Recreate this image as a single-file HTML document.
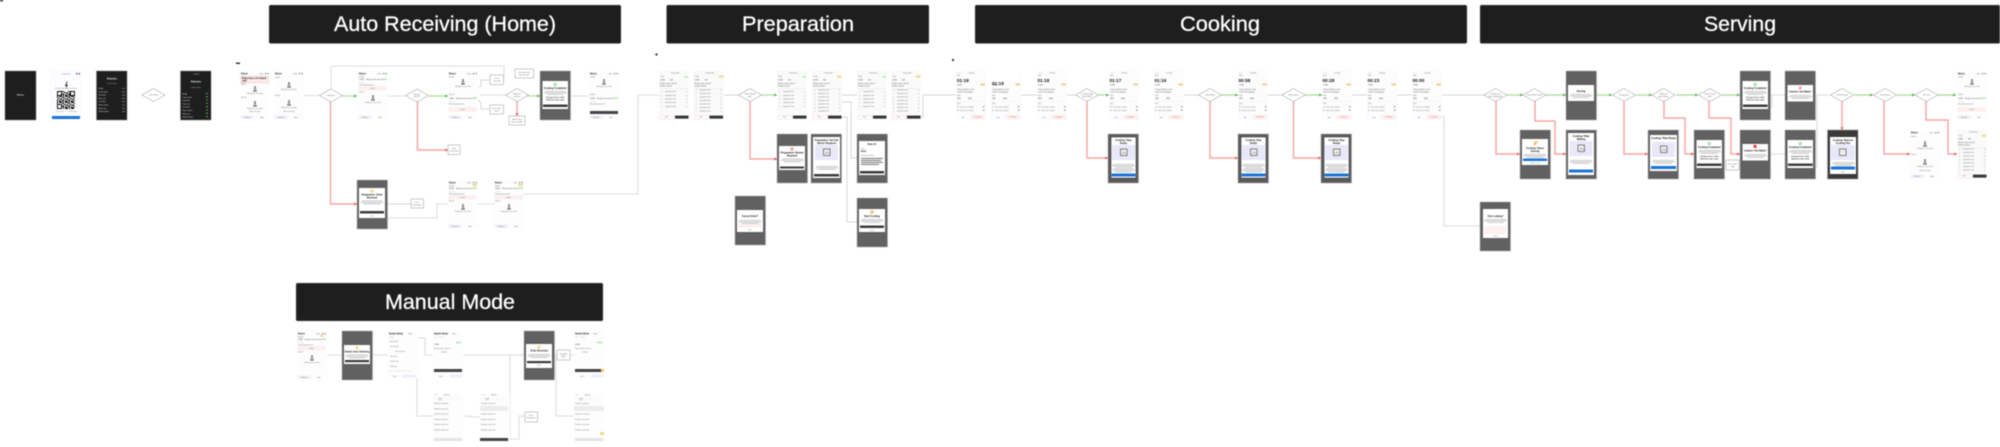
<!DOCTYPE html>
<html><head><meta charset="utf-8"><title>Flow</title>
<style>
html,body{margin:0;padding:0;background:#fff;width:2000px;height:447px;overflow:hidden}
svg{display:block;filter:blur(.4px)}
text{font-family:"Liberation Sans",sans-serif}
.h{font-size:21px;fill:#fff;text-anchor:middle;stroke:#fff;stroke-width:.25}
.t{font-size:1.7px;fill:#777}
.c{font-size:1.7px;fill:#777;text-anchor:middle}
.b{font-size:2.3px;fill:#222;font-weight:bold}
.bc{font-size:2.4px;fill:#111;font-weight:bold;text-anchor:middle}
.d{font-size:1.7px;fill:#666;text-anchor:middle}
.w{font-size:1.7px;fill:#ddd}
.g{fill:none;stroke:#e2e2e2;stroke-width:1.3}
.n{fill:none;stroke:#c9c9c9;stroke-width:.7}
.r{fill:none;stroke:#f7a3a3;stroke-width:1.4}
.v{fill:none;stroke:#a8dc98;stroke-width:1.2}
.bx{fill:#fff;stroke:#b5b5b5;stroke-width:.7}
</style></head><body>
<svg width="2000" height="447" viewBox="0 0 2000 447" xmlns="http://www.w3.org/2000/svg">
<defs>
<pattern id="qr" width="6" height="6" patternUnits="userSpaceOnUse">
<rect width="6" height="6" fill="#fff"/>
<path d="M0 0h2v1H0zM3 0h1v2H3zM5 0h1v1H5zM1 2h1v2H1zM4 2h2v1H4zM0 3h1v1H0zM3 3h1v2H3zM5 4h1v2H5zM0 5h2v1H0zM2 4h1v1H2zM3 5h1v1H3zM2 1h1v1H2z" fill="#111"/>
</pattern>
<g id="dia"><polygon points="-11.5,0 0,-6.5 11.5,0 0,6.5" fill="#fff" stroke="#888" stroke-width=".6" stroke-dasharray="1 .4"/></g>
<g id="bot"><circle cy="1" r=".9" fill="#555"/><path d="M-1.3 3.4V2.800Q0 1.800 1.300 2.800V3.400z" fill="#555"/><rect x="-1.800" y="4.400" width="3.600" height="1" fill="#333"/><text y="8" class="c">Waiting for new order</text></g>
<g id="top"><rect width="30" height="49" fill="#fdfdfd"/><text x="1" y="3.5" class="b">Robot</text><text x="19" y="3.5" class="t">100%</text><rect x="25" y="2" width="1.2" height="1.2" fill="#777"/><rect x="27.5" y="2" width="1.2" height="1.2" fill="#777"/></g>
<g id="foot"><rect x=".7" y="44.6" width="13" height="3.2" rx="1" fill="#eeeefb"/><text x="7" y="46.8" class="c" fill="#333">Manual</text><text x="22" y="46.8" class="c">Auto</text></g>
<g id="s2"><use href="#top"/><text x="1" y="7" class="t">Side A</text><use href="#bot" x="15" y="11"/><text x="1" y="25" class="t">Side B</text><use href="#bot" x="15" y="29"/><text x="15" y="41" class="c">Auto receiving</text><use href="#foot"/></g>
<g id="ord"><text x="1" y="2" class="t" font-weight="bold">#1024</text><text x="8" y="2" class="t" font-weight="bold">Recipe name and set</text><rect x="25" y=".2" width="4" height="1.8" fill="#bfeac0"/><rect x="1" y="4" width="6" height="1.4" fill="#eee"/><text x="1" y="7.6" class="t">Start preparation list</text></g>
<g id="s2r"><use href="#top"/><rect x=".5" y="5" width="28" height="7" fill="#fde9e9" stroke="#f6bcbc" stroke-width=".4"/><text x="2" y="7.8" class="b">Robot has a hot liquid</text><text x="2" y="10.6" class="b">spill</text><text x="1" y="13.5" class="t">Side A</text><use href="#bot" x="15" y="15"/><text x="1" y="27" class="t">Side B</text><use href="#bot" x="15" y="30"/><text x="15" y="41" class="c">Auto receiving</text><use href="#foot"/></g>
<g id="sC"><use href="#top"/><text x="1" y="6.5" class="t">Side A</text><use href="#ord" y="7"/><rect x="1" y="16" width="27" height="2.6" fill="#fff3f3" stroke="#f8c6c6" stroke-width=".3"/><text x="14.5" y="17.9" class="c" fill="#d55">Cancel</text><text x="1" y="21.5" class="t">Side B</text><use href="#bot" x="15" y="24"/><use href="#foot"/></g>
<g id="sD"><use href="#top"/><text x="1" y="6.5" class="t">Side A</text><use href="#bot" x="15" y="8"/><text x="1" y="24" class="t">Side B</text><use href="#ord" y="26"/><rect x="1" y="37" width="27" height="3" fill="#fff3f3" stroke="#f8c6c6" stroke-width=".3"/><text x="14.5" y="39" class="c" fill="#d55">Cancel</text><use href="#foot"/></g>
<g id="sE"><use href="#top"/><text x="1" y="6.5" class="t">Side A</text><use href="#bot" x="15" y="8"/><text x="1" y="24" class="t">Side B</text><use href="#ord" y="26"/><rect x="1" y="40" width="28" height="3" fill="#444"/><use href="#foot"/></g>
<g id="pt"><rect width="30" height="49" fill="#fafafa"/><rect x="1" y="1" width="5" height="2" fill="#fff" stroke="#ddd" stroke-width=".2"/><text x="12" y="2.6" class="t">Preparation</text><text x="1" y="6" class="t">Order</text><text x="1" y="9.5" class="t" font-weight="bold">#1024</text><text x="11" y="9.5" class="t" font-weight="bold">#A1</text><rect x="25.500" y="5" width="3.500" height="1.800" fill="#bfeac0"/><text x="1" y="13" class="t" font-weight="bold">Recipe name and set</text><text x="1" y="15.500" class="t" font-weight="bold">hand-crumbed</text><rect x="1" y="17.500" width="28" height=".3" fill="#ddd"/><rect x=".7" y="44.600" width="14" height="3" fill="#fff" stroke="#f5bcbc" stroke-width=".3"/><text x="7.500" y="46.600" class="c" fill="#d55">Exit</text><rect x="16" y="44.600" width="13.500" height="3" fill="#333"/></g>
<g id="row"><rect x="2" width="1.300" height="1.300" fill="#d8d8d8"/><text x="6" y="1.200" class="t">Ingredient item</text><rect x="27" width="1.200" height="1.200" fill="#ccc"/></g>
<g id="p5"><use href="#pt"/><use href="#row" y="20"/><use href="#row" y="24"/><use href="#row" y="27.500"/><use href="#row" y="31"/><use href="#row" y="35"/></g>
<g id="p7"><use href="#pt"/><use href="#row" y="18.500"/><use href="#row" y="22"/><use href="#row" y="25.500"/><use href="#row" y="29"/><use href="#row" y="32.500"/><use href="#row" y="36"/><use href="#row" y="39.500"/></g>
<g id="ck"><rect width="30" height="49" fill="#fcfcfc"/><rect x="1" y="1" width="4" height="1.600" fill="#eee"/><text x="12" y="2.500" class="t">Cooking</text><text x="1" y="5" class="t">Side</text><rect x="24.500" y="12.500" width="4.500" height="2" fill="#f3cc8b"/><text x="1" y="14.500" class="t" font-weight="bold">#1024</text><text x="1" y="19" class="t" font-weight="bold">Crispy chicken in hot</text><text x="1" y="21.500" class="t" font-weight="bold">sauce and toppings</text><text x="1" y="25" class="t">Side</text><text x="1" y="28" class="t" font-weight="bold">#B11</text><text x="12" y="28" class="t" font-weight="bold">#B22</text><rect x="1" y="30" width="27" height=".3" fill="#e3e3e3"/><text x="1" y="33" class="t">Step</text><rect x="1" y="35" width="1.600" height="1.600" fill="#ccc"/><text x="4" y="36.500" class="t">Item to be cooked</text><rect x="27" y="35" width="1.400" height="1.400" fill="#999"/><rect x="1" y="38.500" width="1.600" height="1.600" fill="#ccc"/><text x="4" y="40" class="t">Item to be cooked</text><rect x="27" y="38.500" width="1.400" height="1.400" fill="#999"/><text x="7" y="46.800" class="c" style="fill:#69c">Skip</text><rect x="15" y="44.600" width="13.500" height="3.200" rx=".7" fill="#fff4f4" stroke="#f6c6c6" stroke-width=".3"/><text x="21.700" y="46.700" class="c" style="fill:#d55">Terminate</text></g>
<g id="dk"><rect width="30.500" height="49" fill="#616161" stroke="#aaa" stroke-width=".5"/></g>
<g id="dkf"><rect width="30.500" height="49" fill="#5a5a5a" stroke="#aaa" stroke-width=".6"/></g>
<g id="imgb"><rect x="4" y="11" width="23" height="15" fill="#e8e8f8"/><rect x="12.500" y="15" width="6.500" height="6.500" fill="#eee" stroke="#555" stroke-width=".7"/><path d="M14 20l2-2 2 2" fill="none" stroke="#555" stroke-width=".5"/></g>
<g id="lines"><rect x="5" width="21" height=".7" fill="#b5b5b5"/><rect x="4" y="1.500" width="23" height=".7" fill="#b5b5b5"/><rect x="7" y="3" width="17" height=".7" fill="#b5b5b5"/></g>
<g id="mimg"><use href="#dkf"/><rect x="3" y="3" width="25" height="41" fill="#fff" stroke="#2a2a2a" stroke-width=".5"/><text x="15.500" y="7" class="bc">Cooking: Step</text><text x="15.500" y="10" class="bc">Ready</text><use href="#imgb"/><use href="#lines" y="30"/><use href="#lines" y="34.500"/><rect x="3.500" y="39.500" width="24" height="3" fill="#1a73d9"/></g>
<g id="mok"><use href="#dk"/><rect x="2.500" y="10" width="25.500" height="28" fill="#fff"/><circle cx="15.200" cy="13.500" r="1.700" fill="#a6e6b2"/><text x="15.200" y="18" class="bc">Cooking Completed</text><use href="#lines" y="20"/><text x="15.200" y="27" class="c" font-weight="bold" style="fill:#333">Change hand to a Side</text><text x="15.200" y="29.500" class="c" font-weight="bold" style="fill:#333">Robot has order ready</text><rect x="3" y="33.500" width="24.500" height="2.500" fill="#3c3c3c"/></g>
<g id="mc"><use href="#dk"/><rect x="2.500" y="14" width="25.500" height="16.500" fill="#fff"/><circle cx="15.200" cy="17" r="1.600" fill="#f4a7a7"/><text x="15.200" y="21.500" class="bc">Caution: Hot Water!</text><use href="#lines" y="24"/></g>
<g id="tb"><rect width="30" height="49" fill="#fdfdfd"/><rect x="1" y="1" width="4" height="1.600" fill="#eee"/><text x="11" y="2.500" class="t">Manual</text><rect x="1" y="5" width="27" height="2.500" fill="#fafafa"/><rect x="5" y="4.500" width="4" height="3" fill="#ddd"/><text x="1" y="11" class="t">Sample recipe item</text><text x="1" y="16.300" class="t">Sample recipe item</text><text x="1" y="21.600" class="t">Sample recipe item</text><text x="1" y="26.900" class="t">Sample recipe item</text><text x="1" y="32.200" class="t">Sample recipe item</text><text x="1" y="37.500" class="t">Sample recipe item</text><rect x="1" y="45" width="28" height="3" fill="#e3e3e3"/></g>
<marker id="ag" viewBox="0 0 4 4" refX="4" refY="2" markerWidth="2.400" markerHeight="2.400" orient="auto"><path d="M0 0L4 2L0 4z" fill="#4cb84c"/></marker>
<marker id="ar" viewBox="0 0 4 4" refX="4" refY="2" markerWidth="2" markerHeight="2" orient="auto"><path d="M0 0L4 2L0 4z" fill="#e25050"/></marker>
</defs>

<!-- headers -->
<rect x="269" y="5" width="352" height="38.500" rx="1.500" fill="#1e1e1e" stroke="#999" stroke-width=".4"/>
<rect x="666.500" y="5" width="262.500" height="38.500" rx="1.500" fill="#1e1e1e" stroke="#999" stroke-width=".4"/>
<rect x="975" y="5" width="492" height="38.500" rx="1.500" fill="#1e1e1e" stroke="#999" stroke-width=".4"/>
<rect x="1480" y="5" width="520" height="38.500" rx="1.500" fill="#1e1e1e" stroke="#999" stroke-width=".4"/>
<rect x="296" y="283" width="307" height="38" rx="1.500" fill="#1e1e1e" stroke="#999" stroke-width=".4"/>
<text class="h" x="445" y="31" textLength="222" lengthAdjust="spacingAndGlyphs">Auto Receiving (Home)</text>
<text class="h" x="798" y="31" textLength="112" lengthAdjust="spacingAndGlyphs">Preparation</text>
<text class="h" x="1220" y="31" textLength="80" lengthAdjust="spacingAndGlyphs">Cooking</text>
<text class="h" x="1740" y="31" textLength="72" lengthAdjust="spacingAndGlyphs">Serving</text>
<text class="h" x="450" y="309" textLength="130" lengthAdjust="spacingAndGlyphs">Manual Mode</text>

<!-- tiny marks -->
<rect x="0" y="0" width="3" height="1.500" fill="#333"/><rect x="236" y="62.500" width="4" height="1.500" fill="#333"/><rect x="655.500" y="53.500" width="2" height="2" fill="#333"/><rect x="952" y="59" width="2" height="2" fill="#333"/>

<!-- connectors -->
<path class="g" d="M304 95.500H320M331 89V66H504V78M387 96H405M480 95H507M571 96H589M524 194H638V95H659M478 204H494M387 218H437V204H448"/>
<path class="n" d="M479 88L481 86V80H490M478 100L481 103V109H490M387 204H411M724 95H739M842 95H857M921 117H923V95H956M842 102H851V158H857M838 117H847V222H857M1020 95H1037M1066 95H1076M1184 95H1198M1268 95H1282M1352 95H1367M1396 95H1412M1442 95H1484"/>
<path class="g" d="M1442 117H1444V226H1480M1770 154H1785M1816 167H1817V95H1831M1770 107H1772V95H1785"/>
<path class="v" marker-end="url(#ag)" d="M342.500 96H357"/>
<path class="v" marker-end="url(#ag)" d="M429 96H448"/>
<path class="v" marker-end="url(#ag)" d="M527 96H540"/>
<path class="v" marker-end="url(#ag)" d="M761 95H777"/>
<path class="v" marker-end="url(#ag)" d="M1098 95H1109"/>
<path class="v" marker-end="url(#ag)" d="M1221 95H1238"/>
<path class="v" marker-end="url(#ag)" d="M1305 95H1322"/>
<path class="v" marker-end="url(#ag)" d="M1507 95H1523"/>
<path class="v" marker-end="url(#ag)" d="M1546 95H1566"/>
<path class="v" marker-end="url(#ag)" d="M1596 95H1612"/>
<path class="v" marker-end="url(#ag)" d="M1636 95H1652"/>
<path class="v" marker-end="url(#ag)" d="M1676 95H1698"/>
<path class="v" marker-end="url(#ag)" d="M1722 95H1740"/>
<path class="v" marker-end="url(#ag)" d="M1854 95H1873"/>
<path class="v" marker-end="url(#ag)" d="M1897 95H1915"/>
<path class="v" marker-end="url(#ag)" d="M1938 95H1956"/>
<path class="r" marker-end="url(#ar)" d="M330.500 101V204H357"/>
<path class="r" marker-end="url(#ar)" d="M417.500 101V150H448"/>
<path class="r" marker-end="url(#ar)" d="M517 101V116"/>
<path class="r" marker-end="url(#ar)" d="M750 101V159H777"/>
<path class="r" marker-end="url(#ar)" d="M1087 101V158H1108"/>
<path class="r" marker-end="url(#ar)" d="M1210 101V158H1238"/>
<path class="r" marker-end="url(#ar)" d="M1293.500 101V158H1321"/>
<path class="r" marker-end="url(#ar)" d="M1496 101V154H1520"/>
<path class="r" marker-end="url(#ar)" d="M1535 101V121H1555V154H1566"/>
<path class="r" marker-end="url(#ar)" d="M1624 101V154H1648"/>
<path class="r" marker-end="url(#ar)" d="M1664 101V118H1685V154H1694"/>
<path class="r" marker-end="url(#ar)" d="M1709 101V118H1731V154H1740"/>
<path class="r" marker-end="url(#ar)" d="M1842 101V130"/>
<path class="r" marker-end="url(#ar)" d="M1884 101V154H1910"/>
<path class="r" marker-end="url(#ar)" d="M1926 101V120H1948V154H1957"/>
<path class="g" d="M325 355H342M372 355H388M418 338H425V355H433M417 355V416H433M463 355H524M463 416H470V417H480M508 439H519V416H525M510 355V438M554 355H557M570 355H574M554 355H556V416H574"/>

<!-- intro screens -->
<rect x="5" y="71" width="31" height="49" fill="#1e1e1e" stroke="#777" stroke-width=".5"/><text x="20.500" y="95.500" class="c" style="fill:#eee" font-weight="bold">Robotics</text>
<rect x="51" y="71" width="30" height="48" fill="#fdfdff" stroke="#eef" stroke-width=".3"/><text x="66" y="74.500" class="c">Connection</text><rect x="76" y="73" width="1.500" height="1.500" fill="#1a73d9"/><rect x="78.500" y="73" width="1.500" height="1.500" fill="#d33"/><path d="M67 81l-2 5h1.500l-1 3 2.500-4h-1.500l1-4z" fill="#111"/><text x="66" y="89" class="c">Scan the QR code to connect</text><rect x="57" y="91" width="18" height="18" fill="url(#qr)"/><rect x="57" y="91" width="5" height="5" fill="#111"/><rect x="58" y="92" width="3" height="3" fill="#fff"/><rect x="70" y="91" width="5" height="5" fill="#111"/><rect x="71" y="92" width="3" height="3" fill="#fff"/><rect x="57" y="104" width="5" height="5" fill="#111"/><rect x="58" y="105" width="3" height="3" fill="#fff"/><text x="60" y="112" class="c">Can't scan?</text><text x="73" y="112" class="c">Next step</text><rect x="52" y="116" width="28" height="3" fill="#1a73d9"/>
<rect x="96.500" y="71" width="30.500" height="49" fill="#1e1e1e" stroke="#777" stroke-width=".5"/><text x="112" y="79.500" class="bc" style="fill:#eee">Robotics</text><text x="112" y="84" class="c" style="fill:#aaa">Check status</text>
<text x="98.500" y="89" class="w">Bridge</text><text x="98.500" y="92.300" class="w">Cook station</text><text x="98.500" y="95.600" class="w">Dispenser</text><text x="98.500" y="98.900" class="w">Fryer unit</text><text x="98.500" y="102.200" class="w">Ice maker</text><text x="98.500" y="105.500" class="w">Water station</text><text x="98.500" y="108.800" class="w">Robot arm</text><text x="98.500" y="112.100" class="w">Safety system</text>
<path d="M122 88.500h3M122 91.800h3M122 95.100h3M122 98.400h3M122 101.700h3M122 105h3M122 108.300h3M122 111.600h3" stroke="#999" stroke-width=".6"/>
<use href="#dia" x="153.500" y="95"/><text x="153.500" y="95.500" class="d">Check status</text>
<rect x="180.500" y="71" width="30.500" height="49" fill="#1e1e1e" stroke="#777" stroke-width=".5"/><text x="196" y="74.500" class="c" style="fill:#bbb">Loading</text><text x="196" y="82.500" class="bc" style="fill:#eee">Robotics</text><text x="196" y="88" class="c" style="fill:#aaa">Check status</text>
<text x="182.500" y="94.500" class="w">Bridge</text><text x="182.500" y="97.800" class="w">Cook station</text><text x="182.500" y="101.100" class="w">Dispenser</text><text x="182.500" y="104.400" class="w">Fryer unit</text><text x="182.500" y="107.700" class="w">Ice maker</text><text x="182.500" y="111" class="w">Water station</text><text x="182.500" y="114.300" class="w">Robot arm</text><text x="182.500" y="117.600" class="w">Safety system</text>
<path d="M206 93.500h2M206 96.800h2M206 100.100h2M206 103.400h2M206 106.700h2M206 110h2M206 113.300h2M206 116.600h2" stroke="#7c7" stroke-width=".8"/>

<!-- auto receiving -->
<use href="#s2r" x="240" y="71"/><use href="#s2" x="274" y="71"/>
<use href="#dia" x="331" y="95.500"/><text x="331" y="96" class="d">Side busy?</text>
<use href="#sC" x="358" y="71"/>
<use href="#dia" x="417" y="95.500"/><text x="417" y="95" class="d">Recipe in</text><text x="417" y="97.200" class="d">queue?</text>
<use href="#sD" x="448" y="71"/>
<rect class="bx" x="490" y="75" width="13.500" height="9.500"/><text x="496.700" y="79" class="d">Go to</text><text x="496.700" y="81.500" class="d">Prep side</text>
<rect class="bx" x="490" y="105" width="13.500" height="9"/><text x="496.700" y="109" class="d">Go to Order</text><text x="496.700" y="111.500" class="d">status</text>
<rect class="bx" x="515" y="69" width="18.500" height="9"/><text x="524" y="73" class="d">Go to next step</text><text x="524" y="75.500" class="d">from this side</text>
<use href="#dia" x="517" y="95"/><text x="517" y="94.500" class="d">Waiting for</text><text x="517" y="96.800" class="d">robot arm</text>
<rect class="bx" x="509" y="116" width="16" height="9"/><text x="517" y="120" class="d">Wait for robot</text><text x="517" y="122.500" class="d">arm to complete</text>
<rect class="bx" x="448" y="145" width="12" height="9.500"/><text x="454" y="149" class="d">Go to</text><text x="454" y="151.500" class="d">Preparation</text>
<use href="#mok" x="540" y="71"/>
<use href="#sE" x="589" y="71"/>
<use href="#dk" x="357" y="180"/>
<rect x="359" y="188" width="26" height="30" fill="#fff"/><circle cx="372" cy="191" r="1.800" fill="#f5d98a"/><text x="372" y="195.500" class="bc">Preparation: Order</text><text x="372" y="198.500" class="bc">Received</text><use href="#lines" x="356.500" y="200.500"/><rect x="360" y="211" width="24" height="2.500" fill="#3c3c3c"/><text x="372" y="216.500" class="c">Later</text>
<rect class="bx" x="411" y="199" width="12.500" height="9"/><text x="417" y="203" class="d">Go to</text><text x="417" y="205.500" class="d">Preparation</text>
<use href="#sC" x="448" y="180"/><rect x="472" y="184" width="5" height="2" fill="#f5d98a"/>
<use href="#sC" x="494" y="180"/><rect x="518" y="184" width="5" height="2" fill="#f5d98a"/>

<!-- preparation -->
<use href="#p5" x="659" y="71"/><use href="#p7" x="693.500" y="71"/><rect x="719" y="75.500" width="4.500" height="2" fill="#f5d98a"/>
<use href="#dia" x="750" y="95"/><text x="750" y="94.500" class="d">Robot finished</text><text x="750" y="96.800" class="d">prep?</text>
<use href="#p5" x="777" y="71"/><use href="#p7" x="812" y="71"/><rect x="837" y="75.500" width="4.500" height="2" fill="#f5d98a"/>
<use href="#p5" x="857" y="71"/><use href="#p7" x="891" y="71"/><rect x="916" y="75.500" width="4.500" height="2" fill="#f5d98a"/>
<use href="#dk" x="777" y="134"/><rect x="779" y="146" width="26" height="24" fill="#fff"/><circle cx="792" cy="149" r="1.800" fill="#f4a7a7"/><text x="792" y="153.500" class="bc">Preparation: Review</text><text x="792" y="156.500" class="bc">Required</text><use href="#lines" x="777" y="158.500"/><rect x="780" y="166.500" width="24" height="2" fill="#3c3c3c"/>
<use href="#dk" x="811" y="134"/><rect x="813" y="137" width="27" height="41" fill="#fff"/><text x="826.500" y="141" class="bc">Preparation: Set Full</text><text x="826.500" y="144" class="bc">Barrier Required</text><use href="#imgb" x="811" y="134"/><use href="#lines" x="811.500" y="166"/><rect x="814" y="174" width="25" height="2.500" fill="#3c3c3c"/>
<use href="#dk" x="857" y="134"/><rect x="859" y="141" width="26" height="34" fill="#fff"/><text x="872" y="145" class="bc">Note #1</text><text x="861" y="149" class="t">Time</text><text x="861" y="152" class="b">Note</text><text x="861" y="156" class="t">Ingredient details</text><rect x="861" y="158" width="22" height=".8" fill="#555"/><rect x="861" y="160" width="20" height=".8" fill="#555"/><rect x="861" y="162" width="22" height=".8" fill="#555"/><rect x="861" y="164" width="18" height=".8" fill="#555"/><rect x="860" y="171" width="24" height="2.500" fill="#3c3c3c"/>
<use href="#dk" x="857" y="198"/><rect x="859" y="209" width="26" height="23" fill="#fff"/><circle cx="872" cy="212" r="1.800" fill="#f5c66a"/><text x="872" y="217" class="bc">Start Cooking</text><use href="#lines" x="856.500" y="219"/><rect x="860" y="225.500" width="24" height="2.500" fill="#3c3c3c"/><text x="872" y="230.800" class="c">Later</text>
<use href="#dk" x="735" y="196"/><rect x="737" y="210" width="26" height="22" fill="#fff"/><text x="750" y="217" class="bc">Cancel Order?</text><use href="#lines" x="734.500" y="220"/><rect x="739" y="224.500" width="22" height="2.500" fill="#fff3f3" stroke="#f8c6c6" stroke-width=".3"/><text x="750" y="230.500" class="c" style="fill:#69c">Back</text>

<!-- cooking -->
<use href="#ck" x="956" y="71"/><text x="957" y="82" font-size="4.600" font-weight="bold" fill="#111">01:19</text>
<use href="#ck" x="991" y="71"/><rect x="992" y="71" width="28" height="10" fill="#fff"/><text x="992" y="85" font-size="4.600" font-weight="bold" fill="#111">01:19</text>
<use href="#ck" x="1037" y="71"/><text x="1037.500" y="82" font-size="4.600" font-weight="bold" fill="#111">01:18</text>
<use href="#dia" x="1087" y="95"/><text x="1087" y="94.500" class="d">Is Cooking Step</text><text x="1087" y="96.800" class="d">Needs Refill?</text>
<use href="#ck" x="1109" y="71"/><text x="1109.500" y="82" font-size="4.600" font-weight="bold" fill="#111">01:17</text>
<use href="#ck" x="1154" y="71"/><text x="1154.500" y="82" font-size="4.600" font-weight="bold" fill="#111">01:16</text>
<use href="#dia" x="1210" y="95"/><text x="1210" y="95.500" class="d">Step finished</text>
<use href="#ck" x="1238" y="71"/><text x="1238.500" y="82" font-size="4.600" font-weight="bold" fill="#111">00:58</text>
<use href="#dia" x="1293.500" y="95"/><text x="1293.500" y="95.500" class="d">Step finished</text>
<use href="#ck" x="1322" y="71"/><text x="1322.500" y="82" font-size="4.600" font-weight="bold" fill="#111">00:28</text>
<use href="#ck" x="1367" y="71"/><text x="1367.500" y="82" font-size="4.600" font-weight="bold" fill="#111">00:23</text>
<use href="#ck" x="1412" y="71"/><text x="1412.500" y="82" font-size="4.600" font-weight="bold" fill="#111">00:00</text>
<use href="#mimg" x="1108" y="134"/><use href="#mimg" x="1238" y="134"/><use href="#mimg" x="1321" y="134"/>

<!-- serving -->
<use href="#dia" x="1495.500" y="95"/><text x="1495.500" y="94.500" class="d">Cooking done</text><text x="1495.500" y="96.800" class="d">Sauce dispensed?</text>
<use href="#dia" x="1534.500" y="95"/><text x="1534.500" y="95.500" class="d">Check Plate Position</text>
<use href="#dk" x="1566" y="71"/><rect x="1568" y="85" width="26" height="16" fill="#fff"/><text x="1581" y="92" class="bc">Serving</text><use href="#lines" x="1565.500" y="94"/>
<use href="#dia" x="1624" y="95"/><text x="1624" y="95.500" class="d">Serving done</text>
<use href="#dia" x="1663.500" y="95"/><text x="1663.500" y="94.500" class="d">Waiting for</text><text x="1663.500" y="96.800" class="d">plate removal</text>
<use href="#dia" x="1710" y="95"/><text x="1710" y="94.500" class="d">Pickup on next</text><text x="1710" y="96.800" class="d">side?</text>
<use href="#mok" x="1740" y="71"/>
<use href="#mc" x="1785" y="71"/>
<use href="#dia" x="1842" y="95"/><text x="1842" y="95.500" class="d">Plate Removed</text>
<use href="#dia" x="1885" y="95"/><text x="1885" y="95.500" class="d">Plate Missing</text>
<use href="#dia" x="1926.500" y="95"/><text x="1926.500" y="95.500" class="d">Next step</text>
<use href="#sD" x="1957" y="71"/>
<use href="#dk" x="1520" y="130"/><rect x="1522" y="139" width="26" height="26" fill="#fff"/><path d="M1535 141l-2 4h3l2-4z" fill="#f5c66a"/><text x="1535" y="149" class="bc">Cooking: Sauce</text><text x="1535" y="152" class="bc">Serving</text><use href="#lines" x="1519.500" y="154"/><rect x="1523" y="158.500" width="24" height="2.500" fill="#1a73d9"/><text x="1535" y="163.500" class="c" style="fill:#69c">Skip this step</text>
<use href="#dk" x="1566" y="130"/><rect x="1568" y="133" width="26" height="42" fill="#fff"/><text x="1581" y="137" class="bc">Cooking: Plate</text><text x="1581" y="140" class="bc">Waiting</text><use href="#imgb" x="1565.500" y="130"/><use href="#lines" x="1565.500" y="160"/><rect x="1569" y="169.500" width="24" height="3" fill="#1a73d9"/>
<use href="#dk" x="1648" y="130"/><rect x="1650" y="135" width="27" height="36" fill="#fff"/><text x="1663.500" y="139" class="bc">Cooking: Plate Ready</text><use href="#imgb" x="1648" y="131"/><use href="#lines" x="1648" y="160"/><rect x="1651" y="166" width="25" height="3" fill="#1a73d9"/>
<use href="#mok" x="1694" y="130"/>
<rect class="bx" x="1726" y="160" width="13" height="10" rx="1"/><text x="1732.500" y="164.500" class="d">Go to Order</text><text x="1732.500" y="167" class="d">ready</text>
<use href="#mc" x="1740" y="130"/><rect x="1753.500" y="145" width="3" height="2.500" fill="#e33"/>
<use href="#mok" x="1785" y="130"/>
<rect x="1827.500" y="130" width="30.500" height="49" fill="#3a3a3a" stroke="#999" stroke-width=".6"/><rect x="1830" y="137" width="26" height="37" fill="#fff"/><text x="1843" y="141" class="bc">Cooking: Remove</text><text x="1843" y="144" class="bc">Cooking Pan</text><rect x="1831" y="145" width="24" height="15" fill="#e8e8f8"/><rect x="1839.500" y="149" width="6.500" height="6.500" fill="#eee" stroke="#555" stroke-width=".7"/><use href="#lines" x="1828" y="162"/><rect x="1831" y="166.500" width="24" height="3" fill="#1a73d9"/><text x="1843" y="172.500" class="c">Later</text>
<use href="#s2" x="1910" y="130"/>
<use href="#p7" x="1957" y="130"/><rect x="1982" y="134.500" width="4" height="2" fill="#f5d98a"/>
<use href="#dk" x="1480" y="202"/><rect x="1483" y="209" width="25" height="29" fill="#fff"/><text x="1495.500" y="217" class="bc">End cooking?</text><use href="#lines" x="1480" y="219"/><rect x="1485" y="227" width="21" height="2.500" fill="#fff3f3" stroke="#f8c6c6" stroke-width=".3"/><rect x="1485" y="231" width="21" height="2.500" fill="#fff3f3" stroke="#f8c6c6" stroke-width=".3"/><text x="1495.500" y="236.500" class="c">Back</text>

<!-- manual mode -->
<use href="#sC" x="297" y="331"/><rect x="320" y="335" width="4" height="1.800" fill="#f5d98a"/>
<use href="#dk" x="342" y="331"/><rect x="344" y="345" width="26" height="19" fill="#fff"/><circle cx="357" cy="348" r="1.600" fill="#f5d98a"/><text x="357" y="352.500" class="bc">Switch Auto Ordering</text><use href="#lines" x="341.500" y="354.500"/><rect x="345" y="360" width="24" height="2.200" fill="#3c3c3c"/>
<rect x="388" y="331" width="30" height="47" fill="#fdfdfd"/><text x="389" y="334.500" class="b">Switch Mode</text><text x="408" y="334.500" class="t">100%</text><rect x="389" y="336" width="5" height="2.500" fill="#eee"/><text x="390" y="342" class="t">Recipe tab</text><text x="390" y="347" class="t">Second tab</text><text x="395" y="352" class="t">Sub selection</text><text x="390" y="357" class="t">Third item</text><text x="390" y="362" class="t">Fourth item</text><text x="390" y="367" class="t">Fifth item</text><path d="M390 371h24" stroke="#bbb" stroke-width=".8" stroke-dasharray="1 2"/><text x="395" y="377" class="c">Back</text><rect x="402" y="374.500" width="14" height="3" fill="#eeeefb"/>
<rect x="433" y="331" width="30" height="47" fill="#fdfdfd"/><text x="434" y="334.500" class="b">Switch Mode</text><text x="452" y="334.500" class="t">100%</text><rect x="434" y="336" width="3" height="2" fill="#eee"/><rect x="439" y="336" width="5" height="2" fill="#eee"/><text x="434" y="345" class="t" font-weight="bold">#1024</text><rect x="456" y="341.500" width="5" height="2" fill="#bfeac0"/><text x="434" y="349" class="t">Recipe name and set</text><text x="441" y="352.500" class="t">Change</text><rect x="434" y="369" width="28" height="3" fill="#444"/><text x="441" y="377" class="c">Back</text><rect x="450" y="374.500" width="12" height="3" fill="#eeeefb"/>
<use href="#dk" x="524" y="331"/><rect x="526" y="344" width="26" height="24" fill="#fff"/><circle cx="539" cy="347" r="1.600" fill="#f5d98a"/><text x="539" y="351.500" class="bc">Order Received</text><use href="#lines" x="523.500" y="354"/><rect x="527" y="361" width="24" height="2.200" fill="#3c3c3c"/><text x="539" y="366" class="c">Later</text>
<rect class="bx" x="557" y="350" width="13" height="10"/><text x="563.500" y="354.500" class="d">Go to Auto</text><text x="563.500" y="357" class="d">Mode</text>
<rect x="574" y="331" width="30" height="47" fill="#fdfdfd"/><text x="575" y="334.500" class="b">Switch Mode</text><text x="593" y="334.500" class="t">100%</text><rect x="575" y="336" width="3" height="2" fill="#eee"/><rect x="580" y="336" width="5" height="2" fill="#eee"/><text x="575" y="345" class="t" font-weight="bold">#1024</text><rect x="597" y="341.500" width="5" height="2" fill="#bfeac0"/><text x="575" y="349" class="t">Recipe name and set</text><text x="582" y="352.500" class="t">Change</text><rect x="575" y="369" width="28" height="3" fill="#444"/><rect x="601" y="369" width="3" height="3" fill="#f5c66a"/><text x="582" y="377" class="c">Back</text><rect x="591" y="374.500" width="12" height="3" fill="#eeeefb"/>
<use href="#tb" x="433" y="393"/>
<use href="#tb" x="480" y="393"/><rect x="480" y="406" width="28" height="5" fill="#ececec"/><rect x="480" y="438" width="28" height="3" fill="#444"/>
<use href="#tb" x="574" y="393"/><rect x="574" y="406" width="30" height="5" fill="#ececec"/><rect x="600" y="432" width="4" height="3" fill="#f5d98a"/>
<rect class="bx" x="525" y="412" width="12.500" height="10"/><text x="531" y="416" class="d">Go to</text><text x="531" y="418.500" class="d">Preparation</text>
</svg>
</body></html>
